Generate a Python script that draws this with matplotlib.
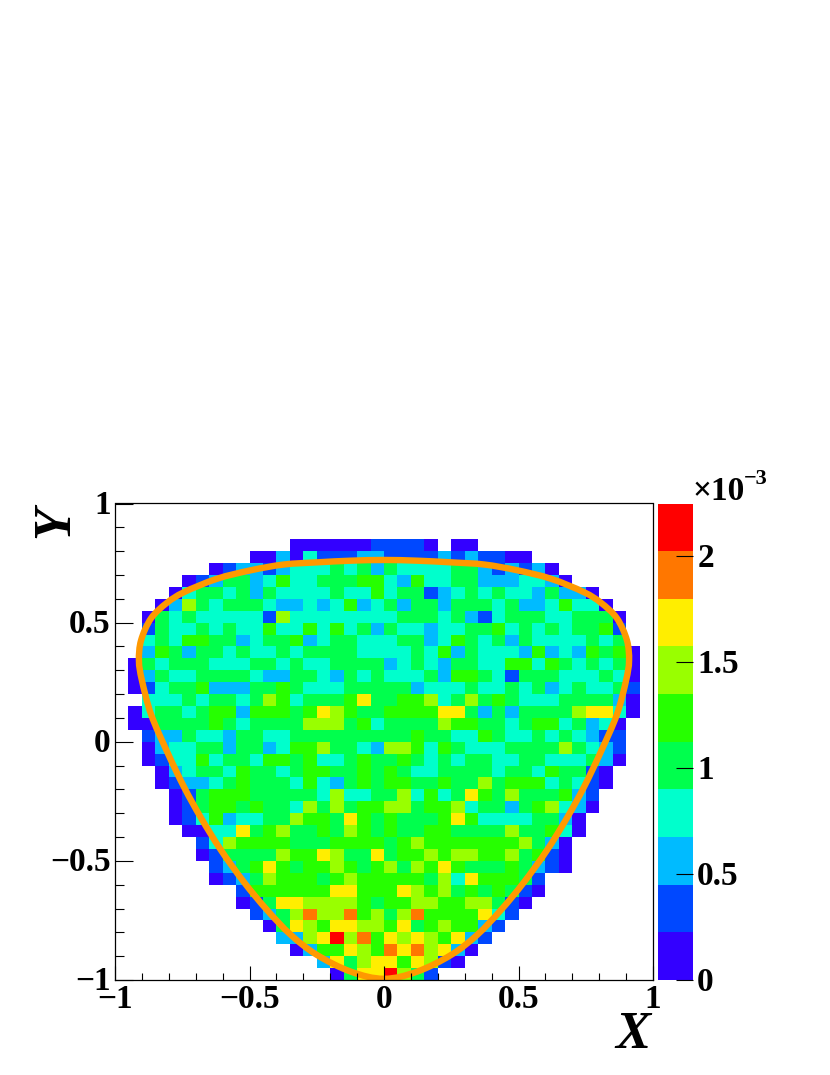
import numpy as np
import matplotlib
matplotlib.use('Agg')
import matplotlib.pyplot as plt
from matplotlib.colors import ListedColormap, BoundaryNorm
from matplotlib.patches import PathPatch
from matplotlib.path import Path
from matplotlib.transforms import ScaledTranslation

plt.rcParams['font.family'] = ['Liberation Serif', 'DejaVu Serif']
plt.rcParams['font.weight'] = 'bold'

# colour band of each bin, top row first, '.' = empty bin (left half, right half)
band_rows = [
    ".................... ....................",
    ".................... ....................",
    ".................... ....................",
    ".............0000001 1110.00.............",
    "..........0020311122 11112121100.........",
    ".......0122123334342 4333344212120.......",
    ".....012442353344455 32533442223320......",
    "....0344342433334335 3441234343324220....",
    "...02643444322323523 42442444342235330...",
    "..043433333163333333 344434213444334440..",
    "..143343433533535342 433233445343434451..",
    "..343554423445234433 344235434243333434..",
    "..254244343343444433 3343524333252325450.",
    ".0434443334434334444 2343244335535434340.",
    ".0243344443224432434 3334255431444333430.",
    ".0134452224454333444 4423334334342343341.",
    "..333434434653444574 4556346454333444420.",
    ".0344345525554576544 5555774242444467730.",
    ".0044445434444666453 444465544345534230..",
    "..122433244334444444 445443354334343211..",
    "..023344244235564432 665354333444464321..",
    "..013353443554533454 454343443344333420..",
    "...02344354434554454 54334444344354410...",
    "...01223454443532454 55445446455534310...",
    "....0145554444436334 4635347546444521....",
    "....0145545443646455 6645563442456320....",
    "....0135233446554754 544457533334420.....",
    ".....003374564454654 544554444644530.....",
    "......13655554445555 45655555556420......",
    "......01444465576447 45565665564510......",
    ".......1245754556545 64657544454210......",
    ".......0124655545655 555463755541........",
    ".........15555557755 576564545410........",
    ".........01477666654 55665566410.........",
    "..........1246866856 4685555731..........",
    "...........047657766 574565521...........",
    "............22679685 76765721............",
    ".............0255765 8786720.............",
    "...............27467 757610..............",
    "................0477 9641................",
]

band_colors = ['#3300ff', '#0048ff', '#00bbff', '#00ffcc', '#00ff4d',
               '#26ff00', '#99ff00', '#ffee00', '#ff7700', '#ff0000']
z_max = 2.245  # in units of 1e-3
band_step = z_max / len(band_colors)

# orange contour, counter-clockwise from the bottom
curve_x = [0, 0.123, 0.249, 0.346, 0.435, 0.520, 0.606, 0.680, 0.743, 0.807,
           0.866, 0.900, 0.911, 0.903, 0.866, 0.807, 0.743, 0.621, 0.494, 0.372,
           0.249, 0.123, 0, -0.123, -0.249, -0.372, -0.494, -0.621, -0.743, -0.807,
           -0.866, -0.903, -0.911, -0.900, -0.866, -0.807, -0.743, -0.680, -0.606,
           -0.520, -0.435, -0.346, -0.249, -0.123]
curve_y = [-0.995, -0.965, -0.895, -0.811, -0.706, -0.590, -0.455, -0.320, -0.191, -0.040,
           0.115, 0.258, 0.340, 0.426, 0.518, 0.583, 0.628, 0.684, 0.720, 0.744,
           0.753, 0.760, 0.763, 0.760, 0.753, 0.744, 0.720, 0.684, 0.628, 0.583,
           0.518, 0.426, 0.340, 0.258, 0.115, -0.040, -0.191, -0.320, -0.455,
           -0.590, -0.706, -0.811, -0.895, -0.965]

main_ticks = [-1, -0.5, 0, 0.5, 1]
main_labels = ['\u22121', '\u22120.5', '0', '0.5', '1']
minor_ticks = np.arange(-10, 11) / 10
bar_ticks = [0, 0.5, 1, 1.5, 2]
bar_labels = ['0', '0.5', '1', '1.5', '2']

W, H = 830, 1075


def box(x0, y0, x1, y1):
    return [x0 / W, 1 - y1 / H, (x1 - x0) / W, (y1 - y0) / H]


def smooth_path(xs, ys):
    # closed bezier path running through the read points
    p = np.column_stack([xs, ys])
    n = len(p)
    verts = [p[0]]
    codes = [Path.MOVETO]
    for i in range(n):
        a, b, c, d = p[i - 1], p[i], p[(i + 1) % n], p[(i + 2) % n]
        verts += [b + (c - a) / 6, c - (d - b) / 6, c]
        codes += [Path.CURVE4] * 3
    return Path(verts, codes)


# turn bands into bin contents, middle of each band
z = np.full((40, 40), np.nan)
for r, row in enumerate(band_rows):
    row = row.replace(" ", "")
    for c, ch in enumerate(row):
        if ch != '.':
            z[r, c] = (int(ch) + 0.5) * band_step
z = np.ma.masked_invalid(z[::-1])

cmap = ListedColormap(band_colors)
norm = BoundaryNorm(np.linspace(0, z_max, len(band_colors) + 1), cmap.N)
edges = np.linspace(-1, 1, 41)

fig = plt.figure(figsize=(W / 100, H / 100), dpi=100)
ax = fig.add_axes(box(115, 503.5, 653, 980))
mesh = ax.pcolormesh(edges, edges, z, cmap=cmap, norm=norm, linewidth=0, antialiased=False)
ax.add_patch(PathPatch(smooth_path(curve_x, curve_y), fill=False, edgecolor='#ff9900', lw=4.6))
ax.set_xlim(-1, 1)
ax.set_ylim(-1, 1)

ax.set_xticks(main_ticks, main_labels)
ax.set_yticks(main_ticks, main_labels)
ax.set_xticks(minor_ticks, minor=True)
ax.set_yticks(minor_ticks, minor=True)
ax.tick_params(axis='x', which='major', direction='in', length=10, width=0.8, labelsize=24, pad=3)
ax.tick_params(axis='x', which='minor', direction='in', length=5, width=0.8)
ax.tick_params(axis='y', which='major', direction='in', length=13, width=0.8, labelsize=24, pad=3)
ax.tick_params(axis='y', which='minor', direction='in', length=6.5, width=0.8)
for s in ax.spines.values():
    s.set_linewidth(0.9)

cax = fig.add_axes(box(657.5, 503.5, 693, 980))
cb = fig.colorbar(mesh, cax=cax, ticks=bar_ticks, spacing='proportional')
cb.ax.set_yticklabels(bar_labels)
cb.outline.set_visible(False)
cax.minorticks_off()
cax.tick_params(axis='y', which='major', direction='in', length=12.5, width=0.8,
                labelsize=24, pad=3, right=True)

# labels sit a little higher than matplotlib centres them
for lab in ax.get_yticklabels():
    lab.set_transform(lab.get_transform() + ScaledTranslation(0, 2 / 100, fig.dpi_scale_trans))
for lab in cax.get_yticklabels():
    lab.set_transform(lab.get_transform() + ScaledTranslation(0, 1 / 100, fig.dpi_scale_trans))

fig.text(693 / W, 1 - 500 / H, '\u00d710', fontsize=24, ha='left', va='baseline')
fig.text(744 / W, 1 - 484 / H, '\u22123', fontsize=16, ha='left', va='baseline')
fig.text(633 / W, 1 - 1048 / H, 'X', fontsize=38, style='italic', ha='center', va='baseline')
fig.text(55 / W, 1 - 522 / H, 'Y', fontsize=38, style='italic', rotation=90,
         ha='center', va='center')

fig.savefig('out.png', dpi=100, facecolor='white')
